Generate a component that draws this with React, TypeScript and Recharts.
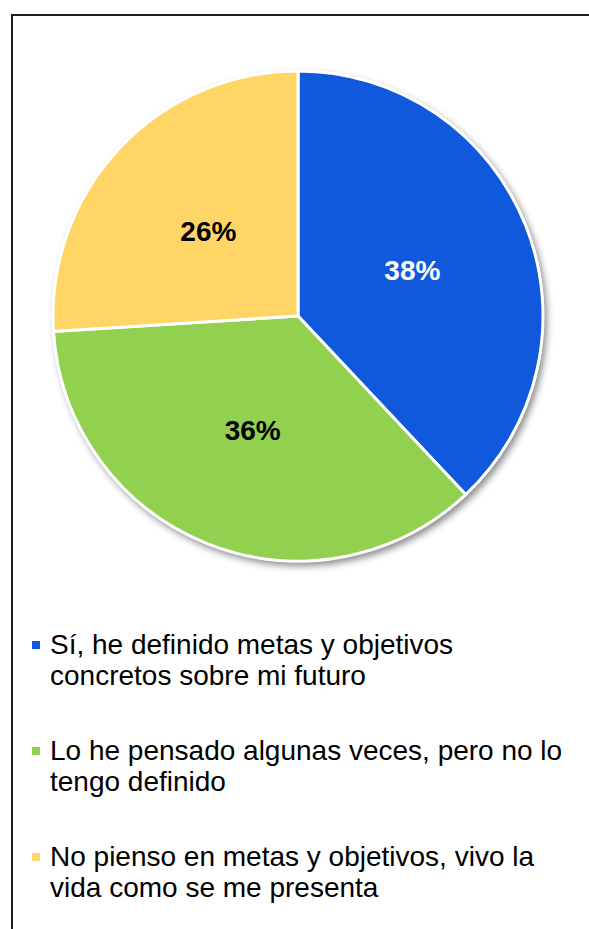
import React from 'react';
import { PieChart, Pie, Cell } from 'recharts';

const categories = [
  'Sí, he definido metas y objetivos concretos sobre mi futuro',
  'Lo he pensado algunas veces, pero no lo tengo definido',
  'No pienso en metas y objetivos, vivo la vida como se me presenta',
];
const values = [38, 36, 26];
const colors = ['#1159DC', '#92D050', '#FFD666'];
const labelColors = ['#FFFFFF', '#000000', '#000000'];

const data = categories.map((name, i) => ({ name, value: values[i] }));
const backdrop = [{ name: 'backdrop', value: 1 }];

const RAD = Math.PI / 180;
const FONT = "'Liberation Sans', Arial, sans-serif";

const renderLabel = (props: any) => {
  const { cx, cy, midAngle, index, value } = props;
  const r = 123;
  const x = cx + r * Math.cos(-midAngle * RAD);
  const y = cy + r * Math.sin(-midAngle * RAD);
  return (
    <text
      x={x}
      y={y}
      fill={labelColors[index]}
      textAnchor="middle"
      dominantBaseline="central"
      fontFamily={FONT}
      fontWeight="bold"
      fontSize={28}
    >
      {`${value}%`}
    </text>
  );
};

export default function App() {
  return (
    <div style={{ position: 'absolute', left: 0, top: 0, width: 589, height: 929, background: '#fff', overflow: 'hidden' }}>
      <svg width={0} height={0} style={{ position: 'absolute' }}>
        <defs>
          <filter id="pieShadow" x="-10%" y="-10%" width="130%" height="130%">
            <feDropShadow dx={3} dy={4} stdDeviation={3.5} floodColor="#000" floodOpacity={0.45} />
          </filter>
        </defs>
      </svg>
      <div style={{ position: 'absolute', left: 11, top: 14, width: 640, height: 960, border: '2px solid #1e1e1e', boxSizing: 'border-box' }} />
      <div style={{ position: 'absolute', left: 0, top: 0 }}>
        <PieChart width={589} height={600} margin={{ top: 0, right: 0, bottom: 0, left: 0 }}>
          <Pie
            data={backdrop}
            dataKey="value"
            cx={298}
            cy={316}
            outerRadius={246}
            startAngle={90}
            endAngle={-270}
            fill="#fff"
            stroke="none"
            legendType="none"
            isAnimationActive={false}
            style={{ filter: 'url(#pieShadow)' }}
          />
          <Pie
            data={data}
            dataKey="value"
            nameKey="name"
            cx={298}
            cy={316}
            outerRadius={245}
            startAngle={90}
            endAngle={-270}
            stroke="#fff"
            strokeWidth={3}
            label={renderLabel}
            labelLine={false}
            isAnimationActive={false}
          >
            {data.map((d, i) => (
              <Cell key={d.name} fill={colors[i]} />
            ))}
          </Pie>
        </PieChart>
      </div>
      <div style={{ position: 'absolute', left: 32, top: 629, width: 550, fontFamily: FONT, fontSize: 28, lineHeight: '31px', color: '#000' }}>
        {categories.map((name, i) => (
          <div key={name} style={{ display: 'flex', alignItems: 'flex-start', marginBottom: 44 }}>
            <div style={{ width: 8, height: 8, background: colors[i], marginTop: 12, marginRight: 10, flexShrink: 0 }} />
            <div style={{ width: 520 }}>{name}</div>
          </div>
        ))}
      </div>
    </div>
  );
}
